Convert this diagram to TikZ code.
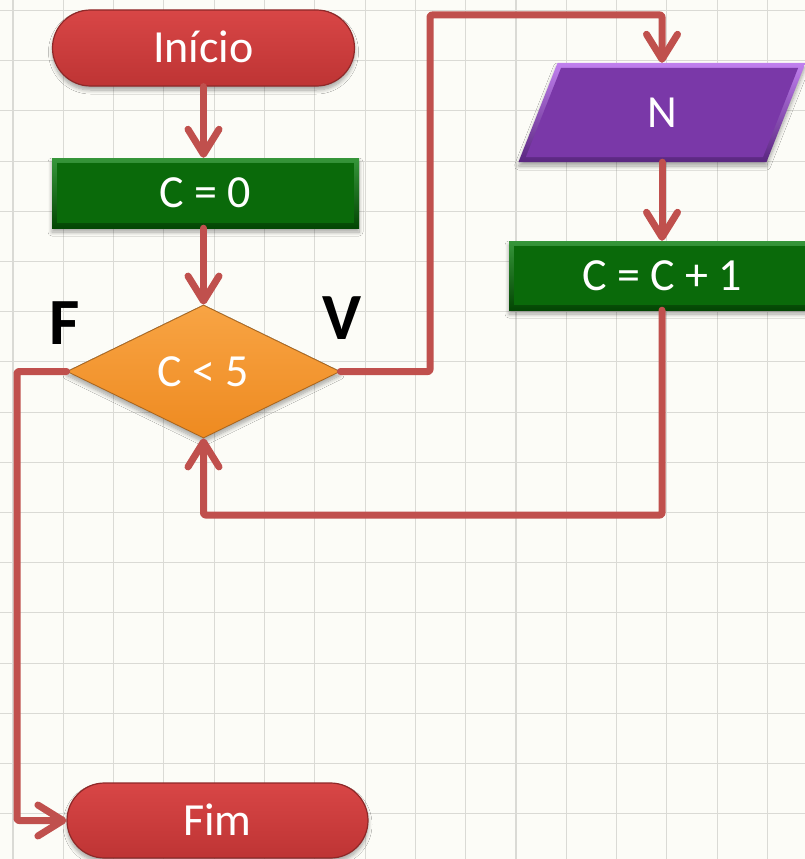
\documentclass[tikz,border=0pt]{standalone}
\usepackage{fontspec}
\setmainfont{Carlito}
\usetikzlibrary{shapes.geometric,shapes.misc,arrows.meta,shadows.blur,calc}
\definecolor{bgc}{HTML}{FCFCF7}
\definecolor{gridc}{HTML}{DADAD5}
\definecolor{linec}{HTML}{C0504D}
\definecolor{pilltop}{HTML}{D84646}
\definecolor{pillbot}{HTML}{BE3434}
\definecolor{pillrim}{HTML}{8E2828}
\definecolor{grtop}{HTML}{36963A}
\definecolor{grbot}{HTML}{034603}
\definecolor{grmid}{HTML}{0A6A0A}
\definecolor{purtop}{HTML}{C080EE}
\definecolor{purbot}{HTML}{5A2680}
\definecolor{purmid}{HTML}{7A38A8}
\definecolor{ortop}{HTML}{F8A444}
\definecolor{orbot}{HTML}{EE8A20}
\definecolor{orrim}{HTML}{A8641C}
\begin{document}
\begin{tikzpicture}[x=1pt,y=-1pt,
  shad/.style={blur shadow={shadow xshift=0pt, shadow yshift=-4pt, shadow blur radius=4pt, shadow blur steps=8, shadow opacity=35}},
  txt/.style={text=white, font=\fontsize{46}{54}\selectfont, text height=29pt, text depth=0pt, inner sep=0pt, align=center},
  pill/.style={txt, rounded rectangle, shad, top color=pilltop, bottom color=pillbot, draw=pillrim, line width=1.2pt},
  procbox/.style={txt, rectangle, shad, top color=grtop, bottom color=grbot,
    path picture={\fill[grmid] ([xshift=5pt,yshift=-5pt]path picture bounding box.north west) rectangle ([xshift=-5pt,yshift=5pt]path picture bounding box.south east);}},
  decis/.style={txt, diamond, aspect=2, shad, top color=ortop, bottom color=orbot, draw=orrim, line width=0.8pt},
  lab/.style={text=black, font=\bfseries\fontsize{66}{70}\selectfont, text height=43pt, text depth=0pt, inner sep=0pt},
  conn/.style={draw=linec, line width=7pt, line cap=round, line join=round, rounded corners=2pt,
    -{Straight Barb[length=25pt,width=31pt,round]}}
]
\useasboundingbox (0,0) rectangle (805,859);
\clip (0,0) rectangle (805,859);
\fill[bgc] (0,0) rectangle (805,859);
\foreach \i in {0,...,15} \draw[gridc, line width=1.1pt] ({13+50.3*\i},0) -- ({13+50.3*\i},859);
\foreach \j in {0,...,16} \draw[gridc, line width=1.1pt] (0,{10.5+50.2*\j}) -- (805,{10.5+50.2*\j});

% parallelogram for N
\begin{scope}[shift={(662,112.5)}]
  \path[shad, top color=purtop, bottom color=purbot] (-104.5,-49.5) -- (143.5,-49.5) -- (104.5,49.5) -- (-143.5,49.5) -- cycle;
  \fill[purmid] (-101,-44.5) -- (136.1,-44.5) -- (101,44.5) -- (-136.1,44.5) -- cycle;
\end{scope}

\node[pill, minimum width=302pt, minimum height=76pt] (inicio) at (203.5,48) {Início};
\node[procbox, minimum width=307pt, minimum height=70pt] (c0) at (205.5,193) {C = 0};
\node[decis, minimum width=273pt, minimum height=133pt] (dec) at (203.5,371.5) {C < 5};
\node[pill, minimum width=301pt, minimum height=75pt] (fim) at (217.5,820.5) {Fim};
\node[txt, minimum width=248pt, minimum height=99pt] (n) at (662,112.5) {N};
\node[procbox, minimum width=306pt, minimum height=69pt] (cc) at (662,275.5) {C = C + 1};

\node[lab] (f) at (65,323) {F};
\node[lab] (v) at (342,318) {V};

\coordinate (ja) at (430,15);
\coordinate (jb) at (203.5,515);
\coordinate (jc) at (17,820.5);

\draw[conn] (inicio.south) -- (c0.north -| inicio.south);
\draw[conn] (c0.south -| dec.north) -- (dec.north);
\draw[conn] (dec.east) -| (ja) -| (n.north);
\draw[conn] (n.south) -- (cc.north);
\draw[conn] (cc.south) |- (jb) -- (dec.south);
\draw[conn] (dec.west) -| (jc) -- (fim.west);
\end{tikzpicture}
\end{document}
